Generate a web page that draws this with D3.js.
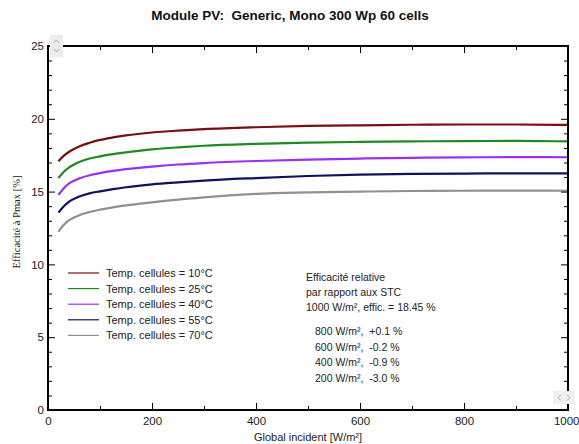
<!DOCTYPE html>
<html>
<head>
<meta charset="utf-8">
<script src="https://cdn.jsdelivr.net/npm/d3@7"></script>
<style>
  body { margin: 0; background: #fff; }
  svg { display: block; }
  text { font-family: Arial, "Liberation Sans", sans-serif; white-space: pre; }
</style>
</head>
<body>
<svg id="chart" width="579" height="444"></svg>
<script>
// ---- data ----
const irradiance = [20, 30, 40, 50, 60, 80, 100, 125, 150, 200, 250, 300, 400, 500, 600, 700, 800, 900, 1000];
const eff10 = [17.08, 17.45, 17.72, 17.93, 18.10, 18.35, 18.55, 18.72, 18.86, 19.06, 19.19, 19.29, 19.42, 19.51, 19.55, 19.59, 19.61, 19.61, 19.58];
const eff25 = [15.93, 16.35, 16.65, 16.86, 17.03, 17.27, 17.42, 17.57, 17.69, 17.90, 18.04, 18.15, 18.28, 18.37, 18.41, 18.45, 18.47, 18.48, 18.45];
const eff40 = [14.78, 15.22, 15.55, 15.75, 15.90, 16.12, 16.27, 16.42, 16.54, 16.72, 16.86, 16.96, 17.10, 17.20, 17.27, 17.32, 17.35, 17.37, 17.36];
const eff55 = [13.56, 13.98, 14.30, 14.50, 14.66, 14.88, 15.02, 15.17, 15.30, 15.50, 15.64, 15.76, 15.93, 16.07, 16.16, 16.22, 16.24, 16.25, 16.25];
const eff70 = [12.25, 12.70, 13.02, 13.22, 13.38, 13.60, 13.76, 13.92, 14.05, 14.26, 14.45, 14.60, 14.84, 14.94, 15.00, 15.04, 15.06, 15.07, 15.06];
const seriesNames = ["Temp. cellules = 10°C", "Temp. cellules = 25°C", "Temp. cellules = 40°C", "Temp. cellules = 55°C", "Temp. cellules = 70°C"];
const seriesValues = [eff10, eff25, eff40, eff55, eff70];
const seriesColors = ["#7a0f0f", "#1f8a1f", "#9b30f0", "#101060", "#909090"];
const xTicks = [0, 200, 400, 600, 800, 1000];
const yTicks = [0, 5, 10, 15, 20, 25];
const titleText = "Module PV:  Generic, Mono 300 Wp 60 cells";
const xTitle = "Global incident [W/m²]";
const yTitle = "Efficacité à Pmax [%]";
const noteLines = ["Efficacité relative", "par rapport aux STC", "1000 W/m², effic. = 18.45 %"];
const noteRows = ["800 W/m²,  +0.1 %", "600 W/m²,  -0.2 %", "400 W/m²,  -0.9 %", "200 W/m²,  -3.0 %"];

// ---- layout ----
const svg = d3.select("#chart");
const L = 48, R = 568, T = 46, B = 410;
const x = d3.scaleLinear().domain([0, 1000]).range([L, R]);
const y = d3.scaleLinear().domain([0, 25]).range([B, T]);

// title
svg.append("text").attr("x", 290).attr("y", 20).attr("text-anchor", "middle")
  .attr("font-size", 13.5).attr("font-weight", "bold").attr("fill", "#111").text(titleText);

// curves
const line = d3.line().x((d, i) => x(irradiance[i])).y(d => y(d)).curve(d3.curveMonotoneX);
seriesValues.forEach((vals, k) => {
  svg.append("path").datum(vals).attr("d", line)
    .attr("fill", "none").attr("stroke", seriesColors[k]).attr("stroke-width", 2.2);
});

// axes (ticks inward)
const minorX = d3.range(100, 1000, 200);
const minorY = d3.range(0, 26, 1).filter(v => v % 5 !== 0);
const tickStyle = g => { g.select(".domain").remove(); g.selectAll("line").attr("stroke", "#000"); };
const labelStyle = g => g.selectAll("text").attr("font-size", 11.5).attr("fill", "#222")
  .attr("font-family", "Arial, Liberation Sans, sans-serif");

svg.append("g").attr("transform", `translate(0,${B})`)
  .call(d3.axisBottom(x).tickValues(xTicks).tickSize(-7).tickPadding(7).tickFormat(d3.format("d")))
  .call(tickStyle).call(labelStyle)
  .call(g => g.selectAll(".tick").filter(d => d === 1000).select("text").attr("text-anchor", "end").attr("x", 11));
svg.append("g").attr("transform", `translate(0,${B})`)
  .call(d3.axisBottom(x).tickValues(minorX).tickSize(-4).tickFormat(""))
  .call(tickStyle);
svg.append("g").attr("transform", `translate(0,${T})`)
  .call(d3.axisTop(x).tickValues(xTicks).tickSize(-7).tickFormat(""))
  .call(tickStyle);
svg.append("g").attr("transform", `translate(0,${T})`)
  .call(d3.axisTop(x).tickValues(minorX).tickSize(-4).tickFormat(""))
  .call(tickStyle);

svg.append("g").attr("transform", `translate(${L},0)`)
  .call(d3.axisLeft(y).tickValues(yTicks).tickSize(-7).tickPadding(4).tickFormat(d3.format("d")))
  .call(tickStyle).call(labelStyle);
svg.append("g").attr("transform", `translate(${L},0)`)
  .call(d3.axisLeft(y).tickValues(minorY).tickSize(-4).tickFormat(""))
  .call(tickStyle);
svg.append("g").attr("transform", `translate(${R},0)`)
  .call(d3.axisRight(y).tickValues(yTicks).tickSize(-7).tickFormat(""))
  .call(tickStyle);
svg.append("g").attr("transform", `translate(${R},0)`)
  .call(d3.axisRight(y).tickValues(minorY).tickSize(-4).tickFormat(""))
  .call(tickStyle);

// frame
svg.append("rect").attr("x", L).attr("y", T).attr("width", R - L).attr("height", B - T)
  .attr("fill", "none").attr("stroke", "#000").attr("stroke-width", 2);

// axis titles
svg.append("text").attr("x", 308).attr("y", 441).attr("text-anchor", "middle")
  .attr("font-size", 11).attr("fill", "#222").text(xTitle);
svg.append("text").attr("transform", "translate(20,222) rotate(-90)").attr("text-anchor", "middle")
  .attr("font-size", 10.5).attr("fill", "#222").style("font-family", "'Liberation Serif', 'DejaVu Serif', serif").text(yTitle);

// legend
const lg = svg.append("g");
seriesNames.forEach((name, k) => {
  const yy = 273 + k * 15.6;
  lg.append("line").attr("x1", 68).attr("x2", 99).attr("y1", yy).attr("y2", yy)
    .attr("stroke", seriesColors[k]).attr("stroke-width", 1.2);
  lg.append("text").attr("x", 106).attr("y", yy + 4).attr("font-size", 11).attr("fill", "#222").text(name);
});

// annotation
noteLines.forEach((t, i) => {
  svg.append("text").attr("x", 306).attr("y", 280.5 + i * 15).attr("font-size", 10.5).attr("fill", "#222").text(t);
});
noteRows.forEach((t, i) => {
  svg.append("text").attr("x", 315).attr("y", 335 + i * 15.6).attr("font-size", 10.5).attr("fill", "#222").text(t);
});

// scroll widgets
const w1 = svg.append("g");
w1.append("rect").attr("x", 50).attr("y", 35).attr("width", 13).attr("height", 22).attr("fill", "#ececec");
w1.append("path").attr("d", "M53.5,43 L56.5,40 L59.5,43").attr("fill", "none").attr("stroke", "#aaa");
w1.append("path").attr("d", "M53.5,49 L56.5,52 L59.5,49").attr("fill", "none").attr("stroke", "#aaa");
const w2 = svg.append("g");
w2.append("rect").attr("x", 553).attr("y", 391).attr("width", 22).attr("height", 13).attr("fill", "#f0f0f0");
w2.append("path").attr("d", "M561,394.5 L558,397.5 L561,400.5").attr("fill", "none").attr("stroke", "#aaa");
w2.append("path").attr("d", "M567,394.5 L570,397.5 L567,400.5").attr("fill", "none").attr("stroke", "#aaa");
</script>
</body>
</html>
